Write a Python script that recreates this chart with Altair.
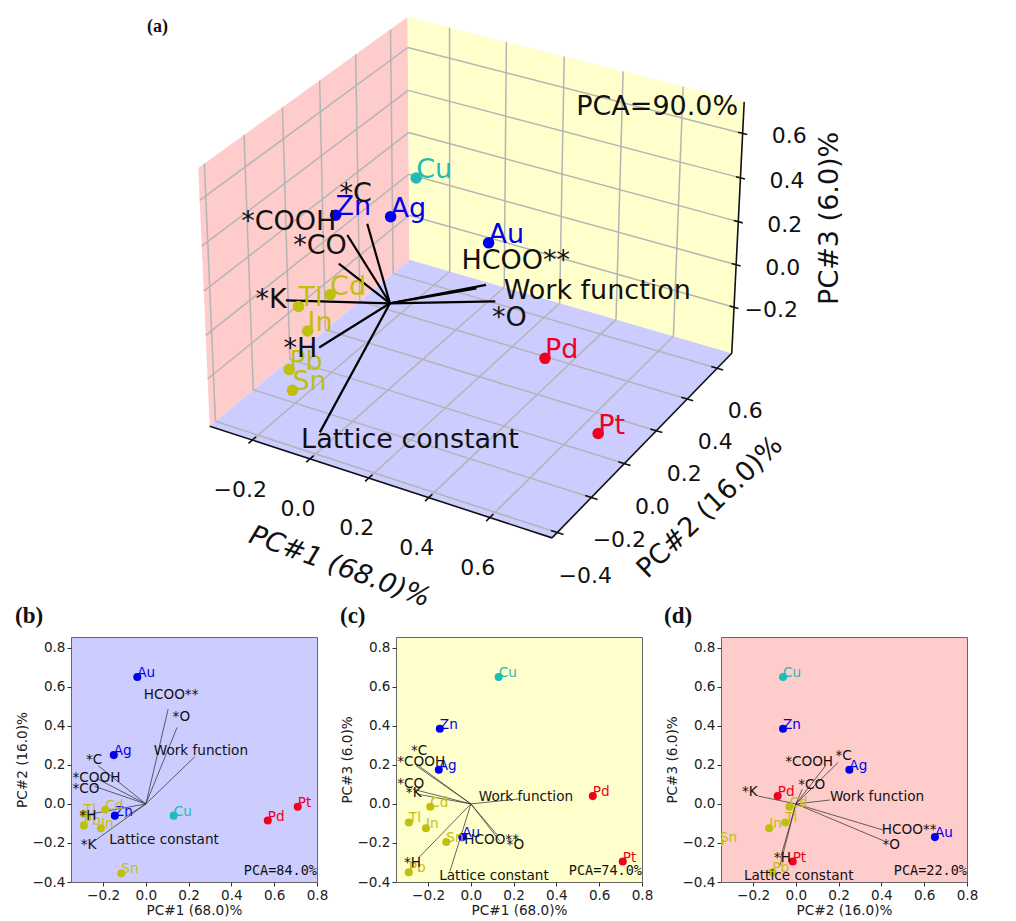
import altair as alt
import numpy as np
import pandas as pd

# ---- element points (PC1, PC2, PC3)
elements = ["Au", "Ag", "Zn", "Cu", "Pd", "Pt", "Cd", "Tl", "In", "Pb", "Sn"]
pc1 = [-0.04, -0.15, -0.145, 0.13, 0.57, 0.71, -0.19, -0.29, -0.21, -0.29, -0.115]
pc2 = [0.65, 0.25, -0.06, -0.06, -0.085, -0.015, -0.03, -0.05, -0.125, -0.11, -0.355]
pc3 = [-0.17, 0.175, 0.385, 0.65, 0.04, -0.295, -0.015, -0.095, -0.125, -0.35, -0.195]
BLUE, RED, TEAL, OLIVE = "#0000ee", "#f00020", "#1dbcb4", "#bfbf10"
el_colors = [BLUE, BLUE, BLUE, TEAL, RED, RED, OLIVE, OLIVE, OLIVE, OLIVE, OLIVE]

# ---- loading vectors
features = ["*C", "*COOH", "*CO", "*H", "*K", "Lattice constant", "Work function", "HCOO**", "*O"]
# 3D panel: vector ends and label anchors
a_end_x = [-0.17, -0.235, -0.235, -0.22, -0.24, -0.212, 0.22, 0.09, 0.12]
a_end_y = [0.15, 0.14, 0.09, -0.05, -0.19, -0.07, 0.24, 0.41, 0.30]
a_end_z = [0.20, 0.13, 0.03, -0.26, 0.05, -0.648, -0.07, -0.16, -0.09]
a_lab_x = [-0.159, -0.512, -0.327, -0.373, -0.47, -0.318, 0.395, 0.254, 0.357]
a_lab_y = [0, 0, 0, 0, 0, 0, 0, 0, 0]
a_lab_z = [0.385, 0.125, 0.088, -0.42, -0.223, -0.841, 0.162, 0.243, 0.027]
# (b) PC1-PC2
b_end_x = [-0.223, -0.23, -0.24, -0.28, -0.24, -0.10, 0.229, 0.104, 0.146]
b_end_y = [0.196, 0.13, 0.09, -0.056, -0.19, -0.07, 0.242, 0.485, 0.392]
b_lab_x = [-0.28, -0.343, -0.343, -0.31, -0.305, -0.171, 0.037, -0.01, 0.125]
b_lab_y = [0.203, 0.114, 0.055, -0.082, -0.232, -0.206, 0.253, 0.536, 0.425]
# (c) PC1-PC3
c_end_x = [-0.25, -0.255, -0.27, -0.246, -0.25, -0.098, 0.229, 0.123, 0.135]
c_end_y = [0.20, 0.195, 0.075, -0.278, 0.05, -0.346, 0.026, -0.159, -0.19]
c_lab_x = [-0.28, -0.344, -0.344, -0.313, -0.304, -0.148, 0.037, -0.031, 0.167]
c_lab_y = [0.25, 0.195, 0.08, -0.324, 0.034, -0.389, 0.015, -0.205, -0.232]
# (d) PC2-PC3
d_end_x = [0.198, 0.139, 0.03, -0.072, -0.176, -0.075, 0.16, 0.405, 0.408]
d_end_y = [0.213, 0.196, 0.075, -0.278, 0.04, -0.32, 0.02, -0.133, -0.188]
d_lab_x = [0.185, -0.05, 0.011, -0.103, -0.252, -0.243, 0.159, 0.402, 0.405]
d_lab_y = [0.225, 0.195, 0.075, -0.299, 0.038, -0.389, 0.015, -0.155, -0.232]

# ---- 3D box
XR, YR, ZR = (-0.35, 0.80), (-0.43, 0.70), (-0.42, 0.74)
x_ticks = [-0.2, 0.0, 0.2, 0.4, 0.6]
y_ticks = [-0.4, -0.2, 0.0, 0.2, 0.4, 0.6]
z_ticks = [-0.2, 0.0, 0.2, 0.4, 0.6]

# camera: fitted from where the box corners sit on the page
corner_3d = [(XR[0], YR[0], ZR[0]), (XR[1], YR[0], ZR[0]), (XR[1], YR[1], ZR[0]), (XR[0], YR[1], ZR[0]),
             (XR[0], YR[0], ZR[1]), (XR[0], YR[1], ZR[1]), (XR[1], YR[1], ZR[1])]
corner_2d = [(210, 426), (552, 538), (732, 353), (409, 260), (198, 168), (408, 17), (744, 102)]
A, B = [], []
for (X, Y, Z), (u, v) in zip(corner_3d, corner_2d):
    A.append([X, Y, Z, 1, 0, 0, 0, 0, -u * X, -u * Y, -u * Z]); B.append(u)
    A.append([0, 0, 0, 0, X, Y, Z, 1, -v * X, -v * Y, -v * Z]); B.append(v)
h = np.linalg.lstsq(np.array(A, float), np.array(B, float), rcond=None)[0]


def proj(X, Y, Z):
    w = h[8] * X + h[9] * Y + h[10] * Z + 1
    return ((h[0] * X + h[1] * Y + h[2] * Z + h[3]) / w, (h[4] * X + h[5] * Y + h[6] * Z + h[7]) / w)


def seg_table(segs, off=(0, 0)):
    rows = []
    for p, q in segs:
        a, b = proj(*p), proj(*q)
        rows.append({"sx": a[0] + off[0], "sy": a[1] + off[1], "ex": b[0] + off[0], "ey": b[1] + off[1]})
    return pd.DataFrame(rows)


SX = alt.Scale(domain=[8, 1008], range=[0, 1000], nice=False, zero=False)
SY = alt.Scale(domain=[8, 637], range=[0, 629], nice=False, zero=False)
ex = alt.X("sx:Q", scale=SX, axis=None)
ey = alt.Y("sy:Q", scale=SY, axis=None)


def rules(segs, color, width, off=(0, 0)):
    return alt.Chart(seg_table(segs, off)).mark_rule(color=color, strokeWidth=width).encode(
        x=ex, y=ey, x2="ex:Q", y2="ey:Q")


def pane(points3d, color):
    pts = [proj(*p) for p in points3d]
    n = len(pts)
    rows = []
    for xv in sorted({p[0] for p in pts}):
        ys = []
        for i in range(n):
            (x0, y0), (x1, y1) = pts[i], pts[(i + 1) % n]
            if min(x0, x1) <= xv <= max(x0, x1) and x0 != x1:
                ys.append(y0 + (y1 - y0) * (xv - x0) / (x1 - x0))
            elif x0 == x1 == xv:
                ys += [y0, y1]
        rows.append({"sx": xv, "top": min(ys), "bot": max(ys)})
    return alt.Chart(pd.DataFrame(rows)).mark_area(color=color, opacity=1, orient="vertical").encode(
        x=ex, y=alt.Y("top:Q", scale=SY, axis=None), y2="bot:Q")


def texts(df, size, font="DejaVu Sans", **kw):
    return alt.Chart(df).mark_text(font=font, fontSize=size, **kw).encode(
        x=ex, y=ey, text="t:N", color=alt.Color("c:N", scale=None))


def screen_table(labels, pts, off=(0, 0), color="#111111"):
    rows = []
    for t, p in zip(labels, pts):
        u, v = proj(*p)
        rows.append({"t": t, "sx": u + off[0], "sy": v + off[1], "c": color})
    return pd.DataFrame(rows)


fmt = lambda v: f"{v:.1f}".replace("-", "\u2212")
PINK, YELL, LAV = "#ffcccc", "#ffffcc", "#ccccff"
MARK_OFF = (3, 3)

layers = [
    pane([(XR[0], YR[0], ZR[0]), (XR[0], YR[1], ZR[0]), (XR[0], YR[1], ZR[1]), (XR[0], YR[0], ZR[1])], PINK),
    pane([(XR[0], YR[1], ZR[0]), (XR[1], YR[1], ZR[0]), (XR[1], YR[1], ZR[1]), (XR[0], YR[1], ZR[1])], YELL),
    pane([(XR[0], YR[0], ZR[0]), (XR[1], YR[0], ZR[0]), (XR[1], YR[1], ZR[0]), (XR[0], YR[1], ZR[0])], LAV),
]
grid = []
for v in x_ticks:
    grid += [((v, YR[0], ZR[0]), (v, YR[1], ZR[0])), ((v, YR[1], ZR[0]), (v, YR[1], ZR[1]))]
for v in y_ticks:
    grid += [((XR[0], v, ZR[0]), (XR[1], v, ZR[0])), ((XR[0], v, ZR[0]), (XR[0], v, ZR[1]))]
for v in z_ticks:
    grid += [((XR[0], YR[0], v), (XR[0], YR[1], v)), ((XR[0], YR[1], v), (XR[1], YR[1], v))]
layers.append(rules(grid, "#b4b4b4", 1.5))

edges = [((XR[0], YR[0], ZR[0]), (XR[1], YR[0], ZR[0])), ((XR[1], YR[0], ZR[0]), (XR[1], YR[1], ZR[0])),
         ((XR[1], YR[1], ZR[0]), (XR[1], YR[1], ZR[1]))]
edges += [((v, YR[0] - 0.02, ZR[0]), (v, YR[0] + 0.02, ZR[0])) for v in x_ticks]
edges += [((XR[1] - 0.02, v, ZR[0]), (XR[1] + 0.02, v, ZR[0])) for v in y_ticks]
edges += [((XR[1] - 0.015, YR[1], v), (XR[1] + 0.015, YR[1], v)) for v in z_ticks]
layers.append(rules(edges, "#111111", 1.6))

layers.append(rules([((0, 0, 0), e) for e in zip(a_end_x, a_end_y, a_end_z)], "#000000", 2.2, MARK_OFF))

pt3 = screen_table(elements, list(zip(pc1, pc2, pc3)), MARK_OFF)
pt3["c"] = el_colors
layers.append(alt.Chart(pt3).mark_circle(size=133, opacity=1).encode(
    x=ex, y=ey, color=alt.Color("c:N", scale=None)))
layers.append(texts(pt3, 27, align="left", baseline="alphabetic"))
layers.append(texts(screen_table(features, list(zip(a_lab_x, a_lab_y, a_lab_z))), 27,
                    align="left", baseline="alphabetic"))

layers.append(texts(screen_table([fmt(v) for v in x_ticks], [(v, YR[0], ZR[0]) for v in x_ticks], (-12, 50)),
                    22, align="center", baseline="middle"))
layers.append(texts(screen_table([fmt(v) for v in y_ticks], [(XR[1], v, ZR[0]) for v in y_ticks], (28, 43)),
                    22, align="center", baseline="middle"))
layers.append(texts(screen_table([fmt(v) for v in z_ticks], [(XR[1], YR[1], v) for v in z_ticks], (64, 3)),
                    22, align="right", baseline="middle"))

layers.append(texts(screen_table(["PC#1 (68.0)%"], [(0.22, YR[0], ZR[0])], (-35, 87)), 27,
                    align="center", baseline="middle", angle=20, fontStyle="italic"))
layers.append(texts(screen_table(["PC#2 (16.0)%"], [(XR[1], 0.135, ZR[0])], (64, 66)), 27,
                    align="center", baseline="middle", angle=316))
layers.append(texts(screen_table(["PC#3 (6.0)%"], [(XR[1], YR[1], 0.16)], (92, -12)), 27,
                    align="center", baseline="middle", angle=270))
layers.append(texts(screen_table(["PCA=90.0%"], [(XR[1], YR[1], ZR[1])], (-6, 13)), 27,
                    align="right", baseline="alphabetic"))

# panel letters
letters = pd.DataFrame({"t": ["(b)", "(c)", "(d)"], "sx": [15, 340, 664], "sy": [623, 623, 623], "c": ["#111111"] * 3})
letter_a = pd.DataFrame({"t": ["(a)"], "sx": [147], "sy": [32], "c": ["#111111"]})
layers.append(texts(letters, 23, font="Liberation Serif", align="left", baseline="alphabetic", fontWeight="bold"))
layers.append(texts(letter_a, 18, font="Liberation Serif", align="left", baseline="alphabetic", fontWeight="bold"))

top = alt.layer(*layers).properties(width=1000, height=629, view=alt.ViewConfig(stroke=None))

# ---- 2D panels
PX = alt.Scale(domain=[-0.35, 0.8], nice=False, zero=False)
PY = alt.Scale(domain=[-0.4, 0.855], nice=False, zero=False)
xt2 = [-0.2, 0.0, 0.2, 0.4, 0.6, 0.8]
yt2 = [-0.4, -0.2, 0.0, 0.2, 0.4, 0.6, 0.8]


def panel(px, py, xtitle, ytitle, ex_, ey_, lx, ly, pca, bg):
    x = alt.X("x:Q", scale=PX, axis=alt.Axis(values=xt2, title=xtitle, format=".1f"))
    y = alt.Y("y:Q", scale=PY, axis=alt.Axis(values=yt2, title=ytitle, format=".1f"))
    pts = pd.DataFrame({"x": px, "y": py, "t": elements, "c": el_colors})
    vec = pd.DataFrame({"x": [0.0] * len(ex_), "y": [0.0] * len(ex_), "xe": ex_, "ye": ey_})
    labs = pd.DataFrame({"x": lx, "y": ly, "t": features})
    pcad = pd.DataFrame({"x": [0.8], "y": [-0.364], "t": [pca]})
    return alt.layer(
        alt.Chart(vec).mark_rule(color="#333333", strokeWidth=1, opacity=0.75, clip=True).encode(
            x=x, y=y, x2="xe:Q", y2="ye:Q"),
        alt.Chart(pts).mark_circle(size=65, opacity=1, clip=True).encode(
            x=x, y=y, color=alt.Color("c:N", scale=None)),
        alt.Chart(pts).mark_text(font="DejaVu Sans", fontSize=13.6, align="left", baseline="alphabetic").encode(
            x=x, y=y, text="t:N", color=alt.Color("c:N", scale=None)),
        alt.Chart(labs).mark_text(font="DejaVu Sans", fontSize=13.6, align="left", baseline="alphabetic",
                                  color="#111111").encode(x=x, y=y, text="t:N"),
        alt.Chart(pcad).mark_text(font="DejaVu Sans Mono", fontSize=13.5, align="right", baseline="alphabetic",
                                  color="#111111").encode(x=x, y=y, text="t:N"),
    ).properties(width=246, height=245, view=alt.ViewConfig(fill=bg, stroke="#666666", strokeWidth=1))


pb = panel(pc1, pc2, "PC#1 (68.0)%", "PC#2 (16.0)%", b_end_x, b_end_y, b_lab_x, b_lab_y, "PCA=84.0%", LAV)
pc = panel(pc1, pc3, "PC#1 (68.0)%", "PC#3 (6.0)%", c_end_x, c_end_y, c_lab_x, c_lab_y, "PCA=74.0%", YELL)
pd_ = panel(pc2, pc3, "PC#2 (16.0)%", "PC#3 (6.0)%", d_end_x, d_end_y, d_lab_x, d_lab_y, "PCA=22.0%", PINK)


def spacer(w):
    return alt.Chart(pd.DataFrame({"a": [0]})).mark_point(opacity=0).encode(
        x=alt.value(10), y=alt.value(10)).properties(width=w, height=245, view=alt.ViewConfig(stroke=None))


row = alt.hconcat(spacer(63), pb, spacer(79), pc, spacer(79), pd_, spacing=0, bounds="flush")
chart = alt.vconcat(top, row, spacing=0, bounds="flush").properties(padding=0).configure_axis(
    grid=False, labelFont="DejaVu Sans", titleFont="DejaVu Sans", labelFontSize=13.6, titleFontSize=13.6,
    titleFontWeight="normal", tickSize=4, tickColor="#333333", labelColor="#222222", titleColor="#222222",
    domain=False, labelPadding=2, titlePadding=2, labelFlush=False, labelOverlap=False,
).configure_view(stroke=None)

chart.save("out.html", embed_options={"renderer": "svg", "actions": False})
